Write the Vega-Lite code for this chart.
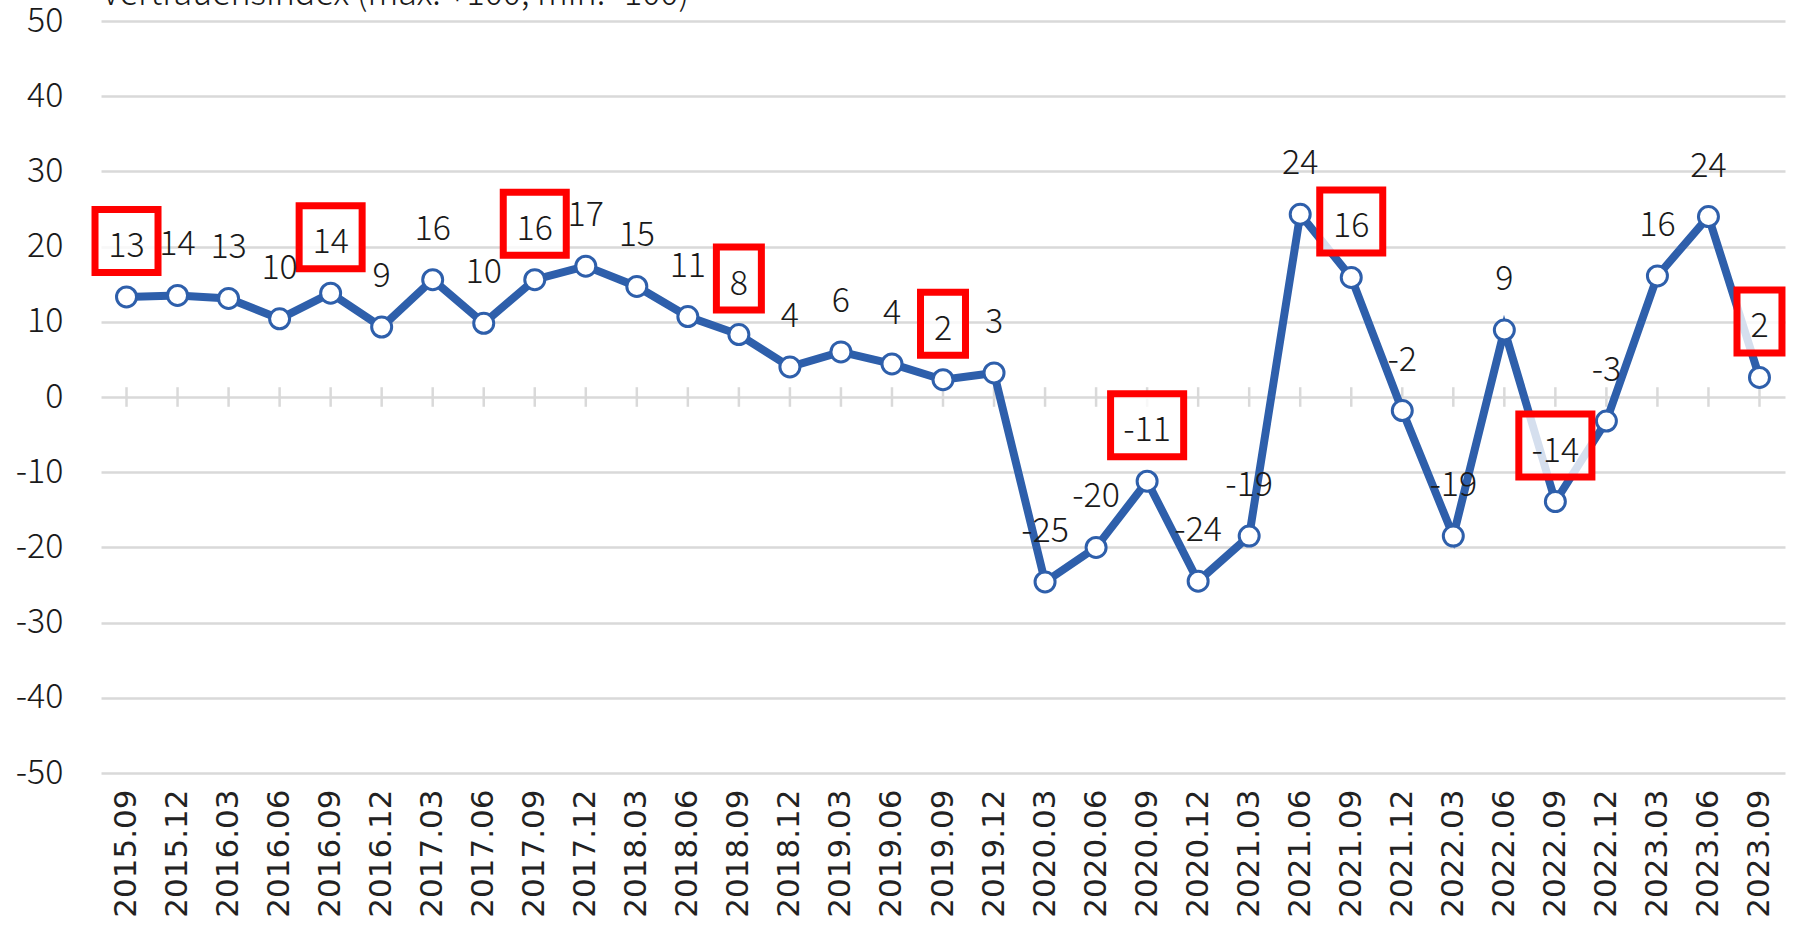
{
  "$schema": "https://vega.github.io/schema/vega-lite/v6.json",
  "width": 1684,
  "height": 752,
  "autosize": {"type": "none"},
  "padding": {"left": 101, "top": 21, "right": 18, "bottom": 153},
  "background": "white",
  "config": {"view": {"stroke": null}},
  "data": {
    "values": [
      {"q": "2015.09", "v": 13.3, "label": "13", "hl": true},
      {"q": "2015.12", "v": 13.5, "label": "14", "hl": false},
      {"q": "2016.03", "v": 13.1, "label": "13", "hl": false},
      {"q": "2016.06", "v": 10.4, "label": "10", "hl": false},
      {"q": "2016.09", "v": 13.8, "label": "14", "hl": true},
      {"q": "2016.12", "v": 9.3, "label": "9", "hl": false},
      {"q": "2017.03", "v": 15.6, "label": "16", "hl": false},
      {"q": "2017.06", "v": 9.8, "label": "10", "hl": false},
      {"q": "2017.09", "v": 15.6, "label": "16", "hl": true},
      {"q": "2017.12", "v": 17.4, "label": "17", "hl": false},
      {"q": "2018.03", "v": 14.7, "label": "15", "hl": false},
      {"q": "2018.06", "v": 10.7, "label": "11", "hl": false},
      {"q": "2018.09", "v": 8.3, "label": "8", "hl": true},
      {"q": "2018.12", "v": 4.0, "label": "4", "hl": false},
      {"q": "2019.03", "v": 6.0, "label": "6", "hl": false},
      {"q": "2019.06", "v": 4.4, "label": "4", "hl": false},
      {"q": "2019.09", "v": 2.3, "label": "2", "hl": true},
      {"q": "2019.12", "v": 3.2, "label": "3", "hl": false},
      {"q": "2020.03", "v": -24.6, "label": "-25", "hl": false},
      {"q": "2020.06", "v": -20.0, "label": "-20", "hl": false},
      {"q": "2020.09", "v": -11.2, "label": "-11", "hl": true},
      {"q": "2020.12", "v": -24.5, "label": "-24", "hl": false},
      {"q": "2021.03", "v": -18.5, "label": "-19", "hl": false},
      {"q": "2021.06", "v": 24.3, "label": "24", "hl": false},
      {"q": "2021.09", "v": 15.9, "label": "16", "hl": true},
      {"q": "2021.12", "v": -1.8, "label": "-2", "hl": false},
      {"q": "2022.03", "v": -18.5, "label": "-19", "hl": false},
      {"q": "2022.06", "v": 8.9, "label": "9", "hl": false},
      {"q": "2022.09", "v": -13.9, "label": "-14", "hl": true},
      {"q": "2022.12", "v": -3.2, "label": "-3", "hl": false},
      {"q": "2023.03", "v": 16.1, "label": "16", "hl": false},
      {"q": "2023.06", "v": 24.0, "label": "24", "hl": false},
      {"q": "2023.09", "v": 2.6, "label": "2", "hl": true}
    ]
  },
  "encoding": {
    "x": {
      "field": "q",
      "type": "ordinal",
      "sort": null,
      "scale": {"type": "point", "padding": 0.5},
      "axis": {
        "title": null,
        "domain": false,
        "ticks": false,
        "grid": false,
        "labelAngle": 270,
        "labelFont": "DejaVu Sans",
        "labelFontSize": 31,
        "labelColor": "#222222",
        "labelPadding": 16
      }
    },
    "y": {
      "field": "v",
      "type": "quantitative",
      "scale": {"domain": [-50, 50], "nice": false, "zero": false},
      "axis": {
        "values": [-50, -40, -30, -20, -10, 0, 10, 20, 30, 40, 50],
        "labelExpr": "'' + datum.value",
        "domain": false,
        "ticks": false,
        "grid": true,
        "gridColor": "#D9D9D9",
        "gridWidth": 2.5,
        "labelFont": "Noto Sans CJK JP",
        "labelFontWeight": 300,
        "labelFontSize": 34,
        "labelColor": "#1a1a1a",
        "labelPadding": 38,
        "title": "Vertrauensindex (max. +100, min. -100)",
        "titleAngle": 0,
        "titleX": 0,
        "titleY": -17,
        "titleAlign": "left",
        "titleBaseline": "alphabetic",
        "titleFont": "Noto Sans CJK JP",
        "titleFontWeight": 300,
        "titleFontSize": 34,
        "titleColor": "#1a1a1a"
      }
    }
  },
  "layer": [
    {
      "mark": {"type": "rule", "color": "#D9D9D9", "strokeWidth": 2.5},
      "encoding": {"y": {"datum": -1.3}, "y2": {"datum": 1.3}}
    },
    {
      "mark": {"type": "line", "color": "#2E5FAB", "strokeWidth": 8}
    },
    {
      "mark": {"type": "point", "shape": "circle", "filled": true, "fill": "white", "stroke": "#2E5FAB", "strokeWidth": 3, "size": 400, "opacity": 1}
    },
    {
      "transform": [{"filter": "datum.hl"}],
      "mark": {"type": "point", "filled": true, "fill": "white", "fillOpacity": 0.8, "stroke": "#FF0000", "strokeOpacity": 1, "strokeWidth": 7, "size": 3969, "yOffset": -56, "opacity": 1},
      "encoding": {
        "shape": {
          "field": "label",
          "type": "nominal",
          "legend": null,
          "scale": {
            "domain": ["8", "2", "13", "14", "16", "-11", "-14"],
            "range": [
              "M-0.714,-1H0.714V1H-0.714Z",
              "M-0.714,-1H0.714V1H-0.714Z",
              "M-1,-1H1V1H-1Z",
              "M-1,-1H1V1H-1Z",
              "M-1,-1H1V1H-1Z",
              "M-1.16,-1H1.16V1H-1.16Z",
              "M-1.16,-1H1.16V1H-1.16Z"
            ]
          }
        }
      }
    },
    {
      "mark": {"type": "text", "baseline": "alphabetic", "dy": -40, "fontSize": 34, "font": "Noto Sans CJK JP", "fontWeight": 300, "color": "#1a1a1a"},
      "encoding": {"text": {"field": "label"}}
    }
  ]
}
